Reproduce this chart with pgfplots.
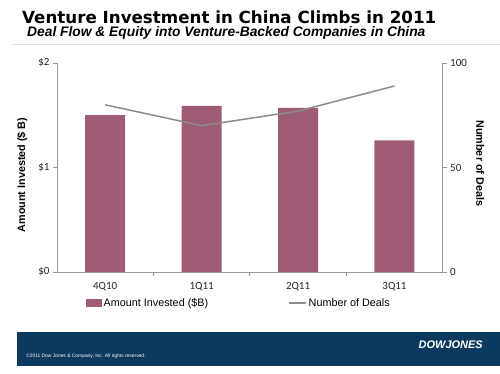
\documentclass[border=0pt]{standalone}
\usepackage{pgfplots}
\pgfplotsset{compat=1.18}
\usepackage{fontspec}
\setmainfont{Liberation Sans}
\newfontfamily\titlefont{DejaVu Sans}
\newfontfamily\tickfont{Carlito}
\definecolor{barcol}{RGB}{158,92,118}
\definecolor{linecol}{RGB}{140,140,140}
\definecolor{axcol}{RGB}{150,150,150}
\definecolor{navy}{RGB}{12,58,95}
\begin{document}
\begin{tikzpicture}[x=1pt,y=1pt]
\useasboundingbox (0,0) rectangle (500,374);
\fill[white] (0,0) rectangle (500,374);
\node[anchor=west, inner sep=0pt, font=\titlefont\bfseries\fontsize{16.7}{19}\selectfont] at (22,357) {Venture Investment in China Climbs in 2011};
\node[anchor=west, inner sep=0pt, font=\bfseries\itshape\fontsize{13.8}{16}\selectfont] at (27,341) {Deal Flow \& Equity into Venture-Backed Companies in China};
\draw[black!12, line width=0.8pt] (12,330) -- (500,330);
\fill[navy] (17,8) rectangle (500,42);
\node[anchor=west, inner sep=0pt, text=white, font=\fontsize{4.9}{6}\selectfont] at (26,18) {\copyright 2011 Dow Jones \& Company, Inc. All rights reserved.};
\node[anchor=east, inner sep=0pt, text=white, font=\bfseries\itshape\fontsize{11}{13}\selectfont] at (483,29) {DOWJONES};
\begin{axis}[
  at={(57pt,102pt)}, anchor=south west, scale only axis,
  width=385.7pt, height=209pt,
  xmin=-0.5, xmax=3.5, ymin=0, ymax=2,
  axis y line*=left, axis x line*=bottom,
  x axis line style={-}, y axis line style={-},
  axis line style={axcol, line width=0.8pt},
  xtick={0,1,2,3}, xticklabels={4Q10,1Q11,2Q11,3Q11},
  major x tick style={draw=none},
  minor xtick={0.5,1.5,2.5},
  tick align=outside,
  major tick length=4pt, minor tick length=4pt,
  tick style={axcol, line width=0.8pt},
  ytick={0,1,2}, yticklabels={\$0,\$1,\$2},
  ticklabel style={font=\tickfont\fontsize{11}{13}\selectfont, text=black!85},
  xticklabel style={yshift=-3pt},
  /pgf/number format/assume math mode=true,
  ylabel={Amount Invested (\$ B)},
  ylabel style={font=\bfseries\fontsize{10.8}{13}\selectfont, at={(axis description cs:-0.09,0.464)}, anchor=center},
  ybar, bar width=40pt,
]
\addplot[fill=barcol, draw=none] coordinates {(0,1.50) (1,1.59) (2,1.57) (3,1.26)};
\end{axis}
\begin{axis}[
  at={(57pt,102pt)}, anchor=south west, scale only axis,
  width=385.7pt, height=209pt,
  xmin=-0.5, xmax=3.5, ymin=0, ymax=100,
  axis y line*=right, axis x line=none,
  y axis line style={-},
  axis line style={axcol, line width=0.8pt},
  tick align=outside, major tick length=4pt,
  tick style={axcol, line width=0.8pt},
  ytick={0,50,100},
  ticklabel style={font=\tickfont\fontsize{11}{13}\selectfont, text=black!85},
  /pgf/number format/assume math mode=true,
  ylabel={Number of Deals},
  ylabel style={font=\bfseries\fontsize{10.8}{13}\selectfont, rotate=180, at={(axis description cs:1.097,0.52)}, anchor=center},
  legend style={at={(0.472,-0.148)}, anchor=center, draw=none, fill=none,
    legend columns=2, font=\fontsize{10.8}{13}\selectfont,
    /tikz/every even column/.append style={column sep=78pt}},
]
\addlegendimage{legend image code/.code={\fill[barcol] (0pt,-3.5pt) rectangle (15pt,3.5pt);}}
\addlegendentry{Amount Invested (\$B)}
\addplot[linecol, line width=1.5pt] coordinates {(0,80) (1,70) (2,77) (3,89)};
\addlegendentry{Number of Deals}
\end{axis}
\end{tikzpicture}
\end{document}
